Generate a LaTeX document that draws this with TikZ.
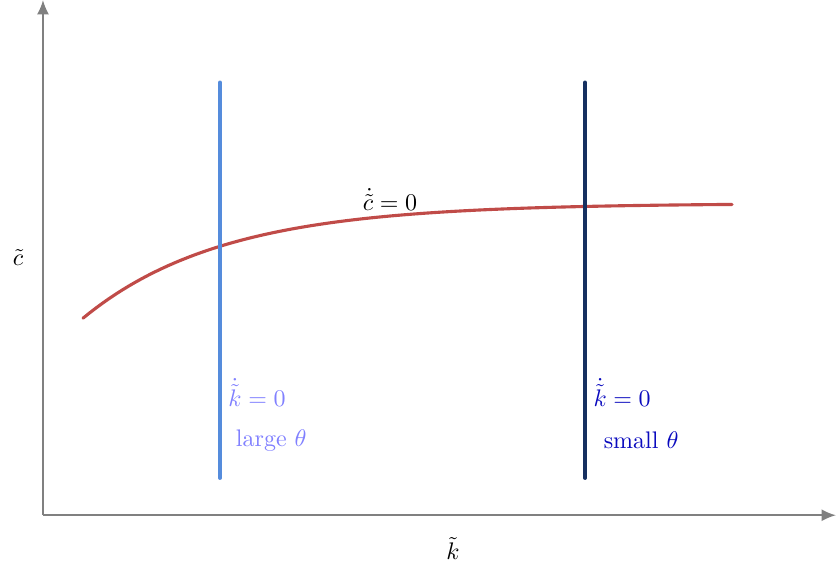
\documentclass[tikz,border=0pt]{standalone}
\usepackage{amsmath}
\usetikzlibrary{arrows.meta}
\definecolor{curvered}{RGB}{192,75,72}
\definecolor{lightline}{RGB}{85,140,220}
\definecolor{darkline}{RGB}{22,48,96}
\definecolor{lighttext}{RGB}{128,128,255}
\definecolor{darktext}{RGB}{10,10,190}
\begin{document}
\begin{tikzpicture}[
    axis/.style={-{Latex[length=6pt,width=5pt]}, line width=0.8pt, color=gray},
    locus/.style={line width=1.3pt, color=curvered, line cap=round},
    largeline/.style={line width=1.4pt, color=lightline, line cap=round},
    smallline/.style={line width=1.4pt, color=darkline, line cap=round},
    txt/.style={font=\normalsize, inner sep=2pt}
]
    \useasboundingbox (-0.63,-0.69) rectangle (11.62,7.55);

    % axes
    \coordinate (O) at (0,0);
    \coordinate (xend) at (11.62,0);
    \coordinate (yend) at (0,7.55);
    \draw[axis] (O) -- (xend);
    \draw[axis] (O) -- (yend);
    \node[txt] (klab) at (6.008,-0.484) {$\tilde{k}$};
    \node[txt] (clab) at (-0.366,3.78) {$\tilde{c}$};

    % c-dot = 0 locus
    \draw[locus, domain=0.586:10.097, samples=100]
        plot (\x, {4.57-1.683*exp(-(\x-0.586)/2.04)});
    \node[txt] (cdot) at (5.085,4.63) {$\dot{\tilde{c}}=0$};

    % k-dot = 0 loci
    \coordinate (lt) at (2.594,6.345);
    \coordinate (lb) at (2.594,0.542);
    \coordinate (st) at (7.943,6.345);
    \coordinate (sb) at (7.943,0.542);
    \draw[largeline] (lb) -- (lt);
    \draw[smallline] (sb) -- (st);

    \node[txt, anchor=west, color=lighttext] (kdotl) at (2.64,1.80) {$\dot{\tilde{k}}=0$};
    \node[txt, anchor=west, color=lighttext] (thetal) at (2.75,1.10) {large $\theta$};
    \node[txt, anchor=west, color=darktext] (kdots) at (7.99,1.80) {$\dot{\tilde{k}}=0$};
    \node[txt, anchor=west, color=darktext] (thetas) at (8.14,1.10) {small $\theta$};
\end{tikzpicture}
\end{document}
